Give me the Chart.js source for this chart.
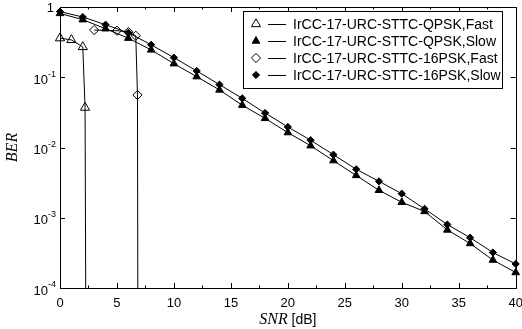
<!DOCTYPE html>
<html>
<head>
<meta charset="utf-8">
<script src="https://cdn.jsdelivr.net/npm/chart.js"></script>
<style>
  html, body { margin: 0; padding: 0; background: #fff; }
  #wrap { width: 522px; height: 329px; }
</style>
</head>
<body>
<div id="wrap"><canvas id="berChart" width="522" height="329"></canvas></div>
<script>
// SNR grid of the slow-fading curves (dB)
const snrSlow = [0, 2, 4, 6, 8, 10, 12, 14, 16, 18, 20, 22, 24, 26, 28, 30, 32, 34, 36, 38, 40];
const berQpskSlow = [0.81, 0.66, 0.49, 0.36, 0.245, 0.156, 0.102, 0.066, 0.040, 0.026, 0.0163,
  0.0106, 0.0065, 0.0040, 0.00246, 0.00166, 0.00123, 0.00067, 0.00043, 0.00025, 0.000166];
const ber16pskSlow = [0.86, 0.72, 0.56, 0.43, 0.29, 0.19, 0.123, 0.0785, 0.050, 0.031, 0.0196,
  0.0127, 0.0079, 0.0049, 0.0033, 0.0022, 0.00134, 0.0008, 0.00052, 0.00032, 0.00022];

// fast-fading curves fall off the bottom of the plot (last value is below 1e-4)
const snrQpskFast = [0, 1, 2, 2.2, 2.3];
const berQpskFast = [0.36, 0.34, 0.27, 0.037, 1e-6];
const snr16pskFast = [3, 5, 6, 6.65, 6.8, 6.85];
const ber16pskFast = [0.47, 0.46, 0.44, 0.39, 0.056, 1e-6];

const seriesLabels = [
  'IrCC-17-URC-STTC-QPSK,Fast',
  'IrCC-17-URC-STTC-QPSK,Slow',
  'IrCC-17-URC-STTC-16PSK,Fast',
  'IrCC-17-URC-STTC-16PSK,Slow'
];
const xTicks = [0, 5, 10, 15, 20, 25, 30, 35, 40];
const xMinorTicks = [2.5, 7.5, 12.5, 17.5, 22.5, 27.5, 32.5, 37.5];
const yTickExps = [0, -1, -2, -3, -4];

const SANS = '"Liberation Sans", Arial, sans-serif';
const SERIF = '"Liberation Serif", "Times New Roman", serif';

const toPoints = (xs, ys) => xs.map((x, i) => ({ x: x, y: ys[i] }));

// marker shapes, shared by the chart and the hand-drawn legend
const markers = [
  { style: 'triangle', radius: 5.3, fill: 'rgba(0,0,0,0)' },
  { style: 'triangle', radius: 4.4, fill: '#000' },
  { style: 'rectRot', radius: 4.6, fill: 'rgba(0,0,0,0)' },
  { style: 'rectRot', radius: 3.6, fill: '#000' }
];

const seriesData = [
  toPoints(snrQpskFast, berQpskFast),
  toPoints(snrSlow, berQpskSlow),
  toPoints(snr16pskFast, ber16pskFast),
  toPoints(snrSlow, ber16pskSlow)
];

const datasets = seriesData.map((d, i) => ({
  label: seriesLabels[i],
  data: d,
  borderColor: '#000',
  borderWidth: 1,
  backgroundColor: markers[i].fill,
  pointStyle: markers[i].style,
  pointRadius: markers[i].radius,
  pointBorderWidth: 1,
  pointBorderColor: '#000',
  pointBackgroundColor: markers[i].fill,
  tension: 0,
  order: 4 - i,
  clip: { left: 10, top: 10, right: 10, bottom: 0 }
}));

// axes frame, inward ticks, MATLAB-like labels and the legend box
const framePlugin = {
  id: 'frame',
  afterDatasetsDraw(chart) {
    const ctx = chart.ctx;
    const a = chart.chartArea;
    const xs = chart.scales.x, ys = chart.scales.y;
    ctx.save();
    ctx.strokeStyle = '#000';
    ctx.lineWidth = 1;
    ctx.strokeRect(Math.round(a.left) + 0.5, Math.round(a.top) + 0.5,
      Math.round(a.right - a.left), Math.round(a.bottom - a.top));

    ctx.beginPath();
    const tick = (vals, len) => vals.forEach(v => {
      const px = Math.round(xs.getPixelForValue(v)) + 0.5;
      ctx.moveTo(px, a.bottom); ctx.lineTo(px, a.bottom - len);
      ctx.moveTo(px, a.top); ctx.lineTo(px, a.top + len);
    });
    tick(xTicks, 5);
    tick(xMinorTicks, 2.5);
    yTickExps.forEach(e => {
      const py = Math.round(ys.getPixelForValue(Math.pow(10, e))) + 0.5;
      ctx.moveTo(a.left, py); ctx.lineTo(a.left + 5, py);
      ctx.moveTo(a.right, py); ctx.lineTo(a.right - 5, py);
    });
    ctx.stroke();

    // x tick labels
    ctx.fillStyle = '#000';
    ctx.font = '13px ' + SANS;
    ctx.textAlign = 'center';
    ctx.textBaseline = 'middle';
    xTicks.forEach(v => ctx.fillText(String(v), xs.getPixelForValue(v), a.bottom + 15));

    // y tick labels 10^n
    const yr = 56;
    yTickExps.forEach(e => {
      const py = ys.getPixelForValue(Math.pow(10, e));
      if (e === 0) {
        ctx.font = '13px ' + SANS;
        ctx.textAlign = 'right';
        ctx.fillText('1', yr - 2, py + 1);
        return;
      }
      const sup = String(e);
      ctx.font = '9px ' + SANS;
      ctx.textAlign = 'right';
      ctx.fillText(sup, yr, py - 3);
      const supW = ctx.measureText(sup).width;
      ctx.font = '13px ' + SANS;
      ctx.fillText('10', yr - supW, py + 3);
    });

    // axis titles
    ctx.save();
    ctx.translate(13, (a.top + a.bottom) / 2);
    ctx.rotate(-Math.PI / 2);
    ctx.font = 'italic 16px ' + SERIF;
    ctx.textAlign = 'center';
    ctx.fillText('BER', 0, 0);
    ctx.restore();

    const cx = (a.left + a.right) / 2;
    const ty = a.bottom + 32;
    ctx.font = 'italic 16px ' + SERIF;
    const w1 = ctx.measureText('SNR').width;
    ctx.font = '14px ' + SANS;
    const w2 = ctx.measureText(' [dB]').width;
    const x0 = cx - (w1 + w2) / 2;
    ctx.textAlign = 'left';
    ctx.font = 'italic 16px ' + SERIF;
    ctx.fillText('SNR', x0, ty);
    ctx.font = '14px ' + SANS;
    ctx.fillText(' [dB]', x0 + w1, ty);

    // legend
    const lx = 243.5, ly = 11.5, lw = 259, lh = 77;
    ctx.fillStyle = '#fff';
    ctx.fillRect(lx, ly, lw, lh);
    ctx.strokeRect(lx, ly, lw, lh);
    const rows = [24, 41, 58, 75];
    seriesLabels.forEach((lab, i) => {
      const ry = rows[i];
      ctx.fillStyle = markers[i].fill;
      ctx.strokeStyle = '#000';
      Chart.helpers.drawPoint(ctx, {
        pointStyle: markers[i].style,
        radius: markers[i].radius,
        borderWidth: 1
      }, 256, ry);
      ctx.beginPath();
      ctx.moveTo(268, ry + 0.5); ctx.lineTo(286, ry + 0.5);
      ctx.stroke();
      ctx.fillStyle = '#000';
      ctx.font = '14px ' + SANS;
      ctx.textAlign = 'left';
      ctx.textBaseline = 'middle';
      ctx.fillText(lab, 293, ry + 1);
    });
    ctx.restore();
  }
};

new Chart(document.getElementById('berChart').getContext('2d'), {
  type: 'line',
  data: { datasets: datasets },
  options: {
    responsive: false,
    animation: false,
    devicePixelRatio: 1,
    layout: { padding: { left: 60, right: 5, top: 7, bottom: 41 } },
    scales: {
      x: { type: 'linear', min: 0, max: 40, display: false },
      y: { type: 'logarithmic', min: 1e-4, max: 1, display: false }
    },
    plugins: {
      legend: { display: false },
      tooltip: { enabled: false }
    }
  },
  plugins: [framePlugin]
});
</script>
</body>
</html>
